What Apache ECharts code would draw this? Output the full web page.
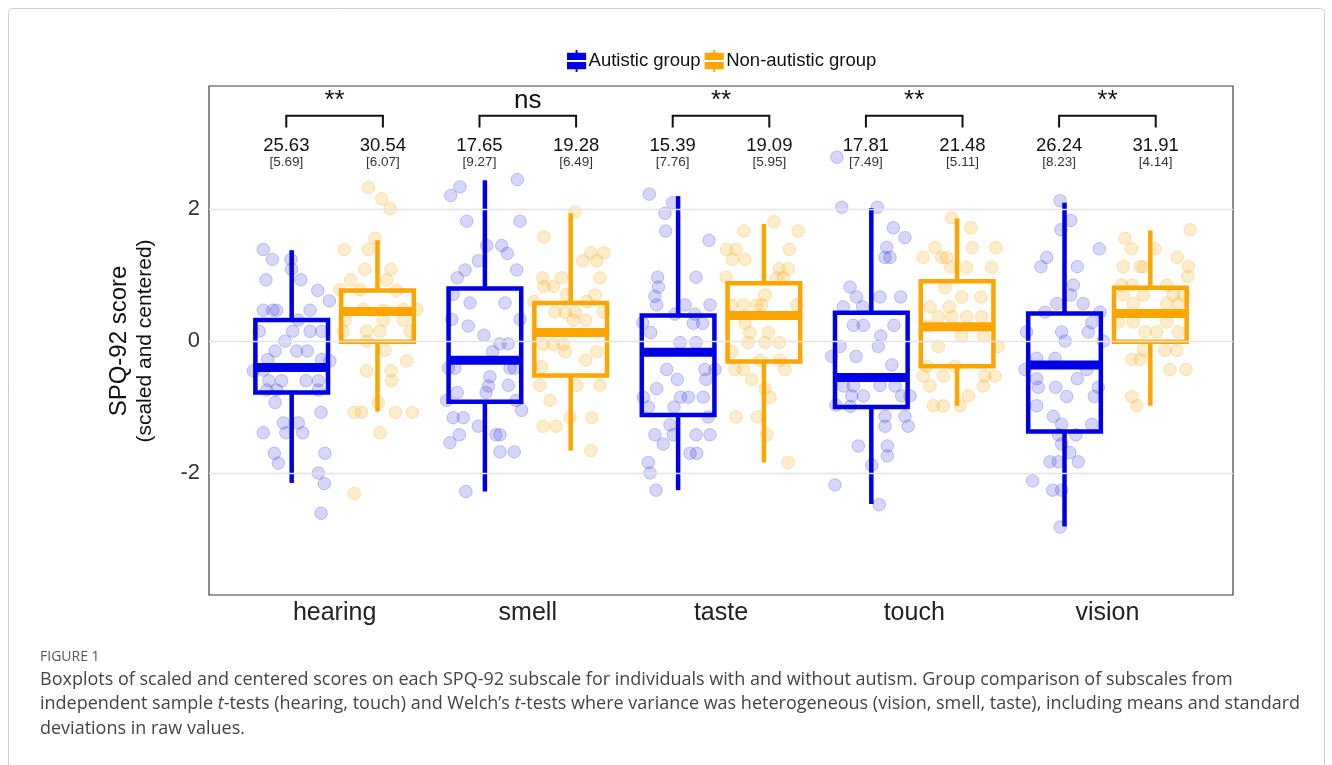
<!DOCTYPE html>
<html><head><meta charset="utf-8">
<script src="https://cdn.jsdelivr.net/npm/echarts@6/dist/echarts.min.js"></script>
<style>html,body{margin:0;padding:0;background:#fff;}#c{width:1332px;height:765px;}</style>
</head><body><div id="c"></div><script>
const categories = ['hearing','smell','taste','touch','vision'];
const groupNames = ['Autistic group','Non-autistic group'];
const yTicks = [-2, 0, 2];
// box statistics per category: [lower whisker, Q1, median, Q3, upper whisker]
const autBox = [
 [-2.15,-0.78,-0.40,0.32,1.38],
 [-2.28,-0.92,-0.29,0.80,2.44],
 [-2.26,-1.12,-0.17,0.39,2.20],
 [-2.47,-1.00,-0.55,0.43,2.02],
 [-2.81,-1.37,-0.36,0.42,2.10]];
const nonBox = [
 [-1.07,-0.01,0.45,0.77,1.53],
 [-1.66,-0.52,0.13,0.58,1.94],
 [-1.84,-0.31,0.39,0.88,1.78],
 [-0.98,-0.38,0.22,0.91,1.86],
 [-0.98,-0.01,0.42,0.81,1.68]];
const autMeans = ['25.63','17.65','15.39','17.81','26.24'];
const autSD = ['[5.69]','[9.27]','[7.76]','[7.49]','[8.23]'];
const nonMeans = ['30.54','19.28','19.09','21.48','31.91'];
const nonSD = ['[6.07]','[6.49]','[5.95]','[5.11]','[4.14]'];
const signif = ['**','ns','**','**','**'];
// jittered individual scores: [horizontal jitter (category units), score]
const autHearing = [[-0.369,1.39],[-0.322,1.24],[-0.226,1.24],[-0.223,1.09],[-0.355,0.93],[-0.175,0.93],[-0.087,0.77],[-0.027,0.61],[-0.369,0.47],[-0.320,0.47],[-0.300,0.47],[-0.127,0.47],[-0.188,0.32],[-0.390,0.15],[-0.217,0.15],[-0.127,0.15],[-0.067,0.15],[-0.257,0.00],[-0.308,-0.15],[-0.196,-0.15],[-0.141,-0.15],[-0.346,-0.28],[-0.067,-0.28],[-0.024,-0.30],[-0.421,-0.45],[-0.369,-0.44],[-0.340,-0.60],[-0.274,-0.60],[-0.148,-0.60],[-0.084,-0.60],[-0.351,-0.74],[-0.300,-0.74],[-0.084,-0.74],[-0.308,-0.93],[-0.070,-1.08],[-0.265,-1.24],[-0.188,-1.24],[-0.369,-1.39],[-0.252,-1.39],[-0.165,-1.39],[-0.312,-1.70],[-0.050,-1.70],[-0.291,-1.85],[-0.084,-2.00],[-0.053,-2.16],[-0.070,-2.61]];
const nonHearing = [[0.175,2.33],[0.244,2.16],[0.287,2.01],[0.209,1.56],[0.050,1.39],[0.175,1.39],[0.157,1.09],[0.292,1.09],[0.083,0.93],[0.270,0.93],[0.028,0.78],[0.131,0.78],[0.321,0.77],[0.149,0.48],[0.252,0.47],[0.356,0.48],[0.425,0.48],[0.054,0.32],[0.252,0.32],[0.356,0.32],[0.045,0.15],[0.166,0.15],[0.235,0.15],[0.390,0.15],[0.166,0.00],[0.261,-0.14],[0.373,-0.30],[0.166,-0.45],[0.292,-0.45],[0.295,-0.60],[0.226,-0.93],[0.102,-1.08],[0.140,-1.08],[0.316,-1.08],[0.402,-1.08],[0.235,-1.39],[0.102,-2.31]];
const autSmell = [[-0.054,2.45],[-0.351,2.34],[-0.399,2.21],[-0.040,1.82],[-0.316,1.82],[-0.135,1.45],[-0.213,1.45],[-0.106,1.33],[-0.256,1.22],[-0.057,1.08],[-0.325,1.08],[-0.365,0.96],[-0.118,0.58],[-0.299,0.58],[-0.386,0.71],[-0.040,0.33],[-0.394,0.33],[-0.308,0.23],[-0.227,0.09],[-0.144,-0.04],[-0.101,-0.04],[-0.182,-0.16],[-0.411,-0.41],[-0.377,-0.41],[-0.092,-0.41],[-0.070,-0.41],[-0.196,-0.54],[-0.204,-0.68],[-0.101,-0.67],[-0.365,-0.78],[-0.216,-0.78],[-0.061,-0.90],[-0.420,-0.90],[-0.032,-1.05],[-0.386,-1.16],[-0.334,-1.16],[-0.256,-1.29],[-0.354,-1.42],[-0.403,-1.54],[-0.165,-1.42],[-0.144,-1.42],[-0.144,-1.68],[-0.070,-1.68],[-0.320,-2.28]];
const nonSmell = [[0.244,1.96],[0.084,1.58],[0.326,1.34],[0.394,1.34],[0.284,1.22],[0.357,1.22],[0.077,0.96],[0.175,0.96],[0.132,0.83],[0.084,0.83],[0.374,0.96],[0.348,0.70],[0.201,0.71],[0.032,0.60],[0.305,0.60],[0.141,0.44],[0.193,0.44],[0.244,0.44],[0.391,0.44],[0.236,0.32],[0.300,0.32],[0.080,-0.05],[0.132,-0.05],[0.184,-0.05],[0.193,-0.16],[0.357,-0.16],[0.300,-0.29],[0.072,-0.39],[0.063,-0.67],[0.253,-0.67],[0.374,-0.67],[0.115,-0.90],[0.218,-1.16],[0.331,-1.16],[0.080,-1.29],[0.146,-1.29],[0.326,-1.66]];
const autTaste = [[-0.371,2.23],[-0.250,2.10],[-0.290,1.94],[-0.286,1.67],[-0.062,1.53],[-0.328,0.97],[-0.129,0.97],[-0.324,0.82],[-0.342,0.68],[-0.333,0.55],[-0.186,0.55],[-0.057,0.55],[-0.135,0.41],[-0.238,0.41],[-0.405,0.28],[-0.143,0.27],[-0.095,0.27],[-0.364,0.13],[-0.212,-0.02],[-0.129,-0.02],[-0.281,-0.43],[-0.083,-0.43],[-0.031,-0.43],[-0.226,-0.58],[-0.078,-0.58],[-0.333,-0.72],[-0.402,-0.85],[-0.209,-0.85],[-0.169,-0.85],[-0.092,-0.85],[-0.376,-1.00],[-0.243,-1.00],[-0.066,-1.15],[-0.264,-1.27],[-0.342,-1.42],[-0.247,-1.42],[-0.129,-1.42],[-0.057,-1.42],[-0.299,-1.56],[-0.160,-1.70],[-0.126,-1.70],[-0.376,-1.84],[-0.367,-2.00],[-0.336,-2.26]];
const nonTaste = [[0.274,1.81],[0.119,1.67],[0.400,1.67],[0.029,1.39],[0.078,1.39],[0.059,1.24],[0.124,1.24],[0.354,1.39],[0.302,1.10],[0.348,1.10],[0.026,0.97],[0.288,0.96],[0.323,0.96],[0.228,0.70],[0.055,0.55],[0.116,0.55],[0.185,0.55],[0.211,0.55],[0.392,0.55],[0.124,0.27],[0.150,0.13],[0.245,0.13],[0.141,-0.02],[0.228,-0.02],[0.302,-0.02],[0.055,-0.16],[0.072,-0.43],[0.116,-0.43],[0.331,-0.43],[0.159,-0.58],[0.228,-0.72],[0.254,-0.85],[0.078,-1.15],[0.188,-1.15],[0.237,-1.42],[0.348,-1.84],[0.202,-0.29],[0.305,-0.29]];
const autTouch = [[-0.375,2.03],[-0.191,2.03],[-0.108,1.72],[-0.048,1.57],[-0.142,1.42],[-0.151,1.27],[-0.125,1.27],[-0.332,0.82],[-0.298,0.67],[-0.177,0.67],[-0.070,0.67],[-0.367,0.52],[-0.267,0.52],[-0.315,0.24],[-0.263,0.24],[-0.105,0.24],[-0.173,0.08],[-0.186,-0.08],[-0.384,-0.08],[-0.427,-0.23],[-0.301,-0.23],[-0.116,-0.36],[-0.177,-0.67],[-0.099,-0.68],[-0.367,-0.68],[-0.315,-0.68],[-0.263,-0.83],[-0.323,-0.83],[-0.065,-0.83],[-0.022,-0.83],[-0.405,-0.97],[-0.332,-0.99],[-0.151,-1.14],[-0.048,-1.14],[-0.151,-1.29],[-0.031,-1.29],[-0.289,-1.59],[-0.139,-1.59],[-0.139,-1.74],[-0.220,-1.88],[-0.410,-2.18],[-0.181,-2.48],[-0.400,2.79]];
const nonTouch = [[0.194,1.87],[0.294,1.72],[0.108,1.42],[0.301,1.42],[0.423,1.42],[0.047,1.27],[0.142,1.27],[0.168,1.27],[0.189,1.12],[0.272,1.12],[0.401,1.12],[0.159,0.81],[0.246,0.67],[0.346,0.67],[0.082,0.52],[0.182,0.52],[0.125,0.37],[0.194,0.37],[0.272,0.37],[0.349,0.37],[0.073,0.23],[0.246,0.08],[0.358,0.08],[0.125,-0.08],[0.435,-0.08],[0.065,-0.38],[0.211,-0.38],[0.047,-0.53],[0.151,-0.53],[0.366,-0.53],[0.418,-0.53],[0.082,-0.68],[0.358,-0.68],[0.280,-0.83],[0.099,-0.98],[0.151,-0.98],[0.237,-0.98]];
const autVision = [[-0.245,2.13],[-0.190,1.83],[-0.240,1.69],[-0.042,1.40],[-0.314,1.27],[-0.344,1.13],[-0.156,1.13],[-0.176,0.85],[-0.190,0.70],[-0.262,0.57],[-0.125,0.57],[-0.323,0.44],[-0.038,0.44],[-0.081,0.28],[-0.237,0.14],[-0.418,0.14],[-0.099,0.14],[-0.219,0.00],[-0.021,0.00],[-0.271,-0.26],[-0.366,-0.26],[-0.426,-0.43],[-0.107,-0.43],[-0.366,-0.57],[-0.156,-0.57],[-0.358,-0.70],[-0.268,-0.70],[-0.047,-0.70],[-0.211,-0.84],[-0.068,-0.84],[-0.366,-0.98],[-0.280,-1.14],[-0.237,-1.26],[-0.081,-1.26],[-0.254,-1.42],[-0.163,-1.42],[-0.237,-1.56],[-0.194,-1.69],[-0.297,-1.83],[-0.254,-1.83],[-0.151,-1.83],[-0.387,-2.12],[-0.283,-2.26],[-0.237,-2.26],[-0.245,-2.82]];
const nonVision = [[0.428,1.69],[0.091,1.56],[0.126,1.40],[0.246,1.40],[0.362,1.27],[0.082,1.13],[0.169,1.13],[0.186,1.13],[0.419,1.13],[0.416,0.98],[0.074,0.85],[0.126,0.85],[0.307,0.85],[0.082,0.70],[0.186,0.70],[0.341,0.70],[0.393,0.70],[0.134,0.57],[0.307,0.57],[0.367,0.57],[0.056,0.29],[0.134,0.29],[0.307,0.29],[0.195,0.14],[0.255,0.14],[0.367,0.14],[0.186,-0.14],[0.298,-0.14],[0.359,-0.14],[0.126,-0.28],[0.169,-0.28],[0.324,-0.43],[0.407,-0.43],[0.126,-0.84],[0.152,-0.98]];

const autPoints = [autHearing, autSmell, autTaste, autTouch, autVision];
const nonPoints = [nonHearing, nonSmell, nonTaste, nonTouch, nonVision];

const BLUE = '#0000e6', ORANGE = '#ffa500';
const DODGE = 0.222, HALF = 0.188, LABEL_OFF = 0.25;
const FONT = '"Liberation Sans", Arial, sans-serif';

function toScatter(groups) {
  const out = [];
  groups.forEach((arr, i) => arr.forEach(p => out.push([i + 1 + p[0], p[1]])));
  return out;
}
function toBoxData(stats, off) {
  return stats.map((s, i) => [i + 1 + off].concat(s));
}
function boxRender(color) {
  return function (params, api) {
    const x = api.value(0);
    const pLo = api.coord([x, api.value(1)]), pQ1 = api.coord([x, api.value(2)]);
    const pMd = api.coord([x, api.value(3)]), pQ3 = api.coord([x, api.value(4)]);
    const pHi = api.coord([x, api.value(5)]);
    const hw = api.size([HALF, 0])[0];
    const lw = 4.5;
    return { type: 'group', children: [
      { type: 'line', shape: { x1: pLo[0], y1: pLo[1], x2: pQ1[0], y2: pQ1[1] }, style: { stroke: color, lineWidth: lw } },
      { type: 'line', shape: { x1: pQ3[0], y1: pQ3[1], x2: pHi[0], y2: pHi[1] }, style: { stroke: color, lineWidth: lw } },
      { type: 'rect', shape: { x: pQ3[0] - hw, y: pQ3[1], width: 2 * hw, height: pQ1[1] - pQ3[1] }, style: { fill: 'none', stroke: color, lineWidth: lw } },
      { type: 'line', shape: { x1: pMd[0] - hw, y1: pMd[1], x2: pMd[0] + hw, y2: pMd[1] }, style: { stroke: color, lineWidth: 9 } }
    ]};
  };
}
function annotRender(params, api) {
  const i = params.dataIndex;
  const c = api.value(0);
  const L = api.coord([c - LABEL_OFF, 3.42]), R = api.coord([c + LABEL_OFF, 3.42]);
  const stubB = api.coord([c, 3.24])[1];
  const sigY = api.coord([c, 3.45])[1];
  const meanY = api.coord([c, 2.955])[1];
  const sdY = api.coord([c, 2.71])[1];
  const st = { stroke: '#111', lineWidth: 2, fill: 'none' };
  return { type: 'group', children: [
    { type: 'polyline', shape: { points: [[L[0], stubB], [L[0], L[1]], [R[0], R[1]], [R[0], stubB]] }, style: st },
    { type: 'text', style: { text: signif[i], x: (L[0] + R[0]) / 2, y: sigY, align: 'center', verticalAlign: 'bottom', fontSize: 26, fontFamily: FONT, fill: '#111' } },
    { type: 'text', style: { text: autMeans[i], x: L[0], y: meanY, align: 'center', verticalAlign: 'middle', fontSize: 18.5, fontFamily: FONT, fill: '#111' } },
    { type: 'text', style: { text: nonMeans[i], x: R[0], y: meanY, align: 'center', verticalAlign: 'middle', fontSize: 18.5, fontFamily: FONT, fill: '#111' } },
    { type: 'text', style: { text: autSD[i], x: L[0], y: sdY, align: 'center', verticalAlign: 'middle', fontSize: 13.5, fontFamily: FONT, fill: '#333' } },
    { type: 'text', style: { text: nonSD[i], x: R[0], y: sdY, align: 'center', verticalAlign: 'middle', fontSize: 13.5, fontFamily: FONT, fill: '#333' } }
  ]};
}

const iconPath = 'path://M9,0h2v3h9v7.5h-20v-7.5h9z M0,12.5h20v7.5h-9v3h-2v-3h-9z';
const capFont = '"Open Sans", "Noto Sans", sans-serif';
const chart = echarts.init(document.getElementById('c'), null, { renderer: 'canvas' });
chart.setOption({
  backgroundColor: '#fff',
  animation: false,
  grid: { left: 209, right: 99, top: 86, bottom: 170, show: true, borderColor: '#3c3c3c', borderWidth: 1.2, backgroundColor: 'transparent' },
  legend: {
    data: [{ name: groupNames[0], icon: iconPath }, { name: groupNames[1], icon: iconPath }],
    left: 562, top: 45, itemWidth: 20, itemHeight: 22, itemGap: 4, selectedMode: false,
    textStyle: { fontSize: 18.5, color: '#111', fontFamily: FONT, padding: [0, 0, 0, -3] }
  },
  xAxis: {
    type: 'value', min: 0.35, max: 5.65,
    axisLine: { show: false }, splitLine: { show: false },
    axisTick: { show: false },
    axisLabel: { customValues: [1, 2, 3, 4, 5], formatter: v => categories[Math.round(v) - 1], fontSize: 25, color: '#222', fontFamily: FONT, margin: 6 }
  },
  yAxis: {
    type: 'value', min: -3.85, max: 3.87,
    axisLine: { show: false }, splitLine: { show: false },
    axisTick: { show: false },
    axisLabel: { customValues: yTicks, fontSize: 22, color: '#333', fontFamily: FONT, margin: 9 }
  },
  series: [
    { type: 'scatter', name: 'grid', data: [], silent: true, z: 0,
      markLine: { silent: true, symbol: 'none', label: { show: false }, animation: false,
        lineStyle: { color: '#e4e4e4', width: 1.3, type: 'solid' },
        data: yTicks.map(v => ({ yAxis: v })) } },
    { type: 'custom', name: groupNames[0], renderItem: boxRender(BLUE), data: toBoxData(autBox, -DODGE),
      encode: { x: 0, y: [1, 2, 3, 4, 5] }, itemStyle: { color: BLUE }, z: 2, silent: true },
    { type: 'custom', name: groupNames[1], renderItem: boxRender(ORANGE), data: toBoxData(nonBox, DODGE),
      encode: { x: 0, y: [1, 2, 3, 4, 5] }, itemStyle: { color: ORANGE }, z: 2, silent: true },
    { type: 'scatter', name: 'autPts', data: toScatter(autPoints), symbolSize: 12.5, z: 3, silent: true,
      itemStyle: { color: 'rgba(0,0,230,0.2)', borderColor: 'rgba(0,0,200,0.26)', borderWidth: 1 } },
    { type: 'scatter', name: 'nonPts', data: toScatter(nonPoints), symbolSize: 12.5, z: 3, silent: true,
      itemStyle: { color: 'rgba(255,165,0,0.26)', borderColor: 'rgba(240,160,0,0.32)', borderWidth: 1 } },
    { type: 'custom', name: 'annot', renderItem: annotRender, data: categories.map((c, i) => [i + 1]),
      encode: { x: 0 }, z: 4, silent: true, clip: false }
  ],
  graphic: [
    { type: 'rect', shape: { x: 8.5, y: 8.5, width: 1316, height: 820, r: 4 }, style: { fill: 'none', stroke: '#cfcfcf', lineWidth: 1 }, silent: true, z: -10 },
    { type: 'text', x: 119, y: 341, rotation: Math.PI / 2, style: { text: 'SPQ-92 score', x: 0, y: 0, align: 'center', verticalAlign: 'middle', fontSize: 24, fontFamily: FONT, fill: '#111' } },
    { type: 'text', x: 145, y: 341, rotation: Math.PI / 2, style: { text: '(scaled and centered)', x: 0, y: 0, align: 'center', verticalAlign: 'middle', fontSize: 21, fontFamily: FONT, fill: '#111' } },
    { type: 'text', x: 40, y: 657, style: { text: 'FIGURE 1', verticalAlign: 'middle', fontSize: 14, fontFamily: capFont, fill: '#555' } },
    { type: 'text', x: 40, y: 680, style: { text: 'Boxplots of scaled and centered scores on each SPQ-92 subscale for individuals with and without autism. Group comparison of subscales from', verticalAlign: 'middle', fontSize: 18, fontFamily: capFont, fill: '#444' } },
    { type: 'text', x: 40, y: 704, style: { text: 'independent sample {i|t}-tests (hearing, touch) and Welch\u2019s {i|t}-tests where variance was heterogeneous (vision, smell, taste), including means and standard', verticalAlign: 'middle', fontSize: 18, fontFamily: capFont, fill: '#444', rich: { i: { fontStyle: 'italic', fontSize: 18, fontFamily: capFont, fill: '#444' } } } },
    { type: 'text', x: 40, y: 729, style: { text: 'deviations in raw values.', verticalAlign: 'middle', fontSize: 18, fontFamily: capFont, fill: '#444' } }
  ]
});
</script></body></html>
